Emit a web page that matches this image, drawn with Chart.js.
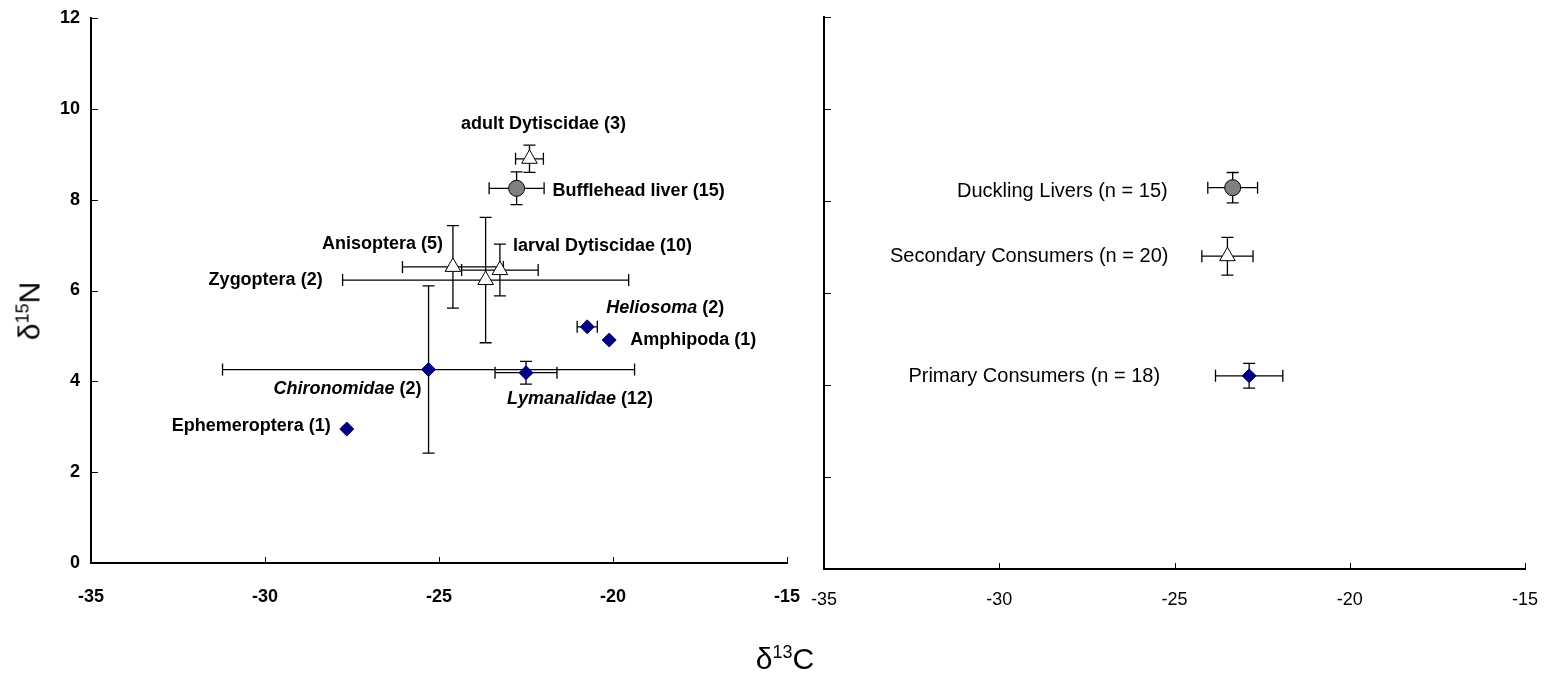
<!DOCTYPE html>
<html>
<head>
<meta charset="utf-8">
<script src="https://cdn.jsdelivr.net/npm/chart.js@4.4.0/dist/chart.umd.min.js"></script>
<style>
    body { margin: 0; background: #fff; width: 1551px; height: 674px; overflow: hidden; position: relative; font-family: "Liberation Sans", Arial, sans-serif; }
    #left-wrap { position: absolute; left: 0; top: 0; width: 800px; height: 674px; }
    #right-wrap { position: absolute; left: 800px; top: 0; width: 751px; height: 674px; }
    .axis-title { position: absolute; font-size: 30px; color: #000; white-space: nowrap; line-height: 1; }
    .axis-title sup { font-size: 18px; vertical-align: 11px; }
    #y-title { left: 29px; top: 311px; transform: translate(-50%, -50%) rotate(-90deg); }
    #x-title { left: 785px; top: 658px; transform: translate(-50%, -50%); }
</style>
</head>
<body>
<div id="left-wrap"><canvas id="left-chart"></canvas></div>
<div id="right-wrap"><canvas id="right-chart"></canvas></div>
<div class="axis-title" id="y-title">δ<sup>15</sup>N</div>
<div class="axis-title" id="x-title">δ<sup>13</sup>C</div>

<script>
// left panel: taxa means (d13C, d15N) with SD
const leftTaxa = ['adult Dytiscidae', 'Bufflehead liver', 'Anisoptera', 'larval Dytiscidae', 'Zygoptera',
                  'Heliosoma', 'Amphipoda', 'Chironomidae', 'Lymanalidae', 'Ephemeroptera'];
const leftCounts = [3, 15, 5, 10, 2, 2, 1, 2, 12, 1];
const leftGroups = ['secondary', 'liver', 'secondary', 'secondary', 'secondary',
                    'primary', 'primary', 'primary', 'primary', 'primary'];
const leftC13 = [-22.4, -22.77, -24.6, -23.25, -23.66, -20.74, -20.11, -25.3, -22.5, -27.65];
const leftN15 = [8.9, 8.25, 6.52, 6.45, 6.23, 5.2, 4.91, 4.26, 4.19, 2.95];
const leftC13Err = [0.4, 0.79, 1.45, 1.1, 4.11, 0.29, 0, 5.92, 0.89, 0];
const leftN15Err = [0.3, 0.36, 0.91, 0.57, 1.38, 0, 0, 1.84, 0.25, 0];
const italicTaxa = ['Heliosoma', 'Chironomidae', 'Lymanalidae'];

// right panel: pooled groups
const rightNames = ['Duckling Livers', 'Secondary Consumers', 'Primary Consumers'];
const rightCounts = [15, 20, 18];
const rightGroups = ['liver', 'secondary', 'primary'];
const rightC13 = [-23.34, -23.49, -22.87];
const rightN15 = [8.29, 6.80, 4.20];
const rightC13Err = [0.71, 0.73, 0.96];
const rightN15Err = [0.33, 0.41, 0.27];

// axes
const xRange = [-35, -15];
const xStep = 5;
const yRange = [0, 12];
const yStep = 2;

// label placement [align, dx, dy] relative to the point (pixels)
const leftLabelPlace = [
    ['center', 14, -35], ['left', 36, 3], ['right', -10, -23], ['left', 13, -24], ['right', -163, 0],
    ['left', 19, -19], ['left', 21, 0], ['right', -7, 20], ['left', -19, 26], ['right', -16, -3]
];
const rightLabelPlace = [['right', -65, 4], ['right', -59, 0], ['right', -89, 1]];

Chart.defaults.font.family = "'Liberation Sans', Arial, sans-serif";
Chart.defaults.color = '#000';

const MARKERS = {
    liver: { style: 'circle', radius: 8, fill: '#808080', border: '#000' },
    secondary: { style: 'triangle', radius: 9, fill: '#ffffff', border: '#000' },
    primary: { style: 'rectRot', radius: 7, fill: '#000080', border: '#000080' }
};

function buildDatasets(groups, xs, ys, xErr, yErr) {
    return ['liver', 'secondary', 'primary'].map(g => {
        const idx = groups.map((gg, i) => gg === g ? i : -1).filter(i => i >= 0);
        const m = MARKERS[g];
        return {
            label: g,
            data: idx.map(i => ({ x: xs[i], y: ys[i] })),
            srcIndex: idx,
            xErr: idx.map(i => xErr[i]),
            yErr: idx.map(i => yErr[i]),
            pointStyle: m.style,
            pointRadius: m.radius,
            pointHoverRadius: m.radius,
            pointBackgroundColor: m.fill,
            pointBorderColor: m.border,
            pointBorderWidth: 1,
            showLine: false
        };
    });
}

// error bars under the markers
const errorBars = {
    id: 'errorBars',
    beforeDatasetsDraw(chart) {
        const { ctx, scales: { x, y } } = chart;
        const cap = 6;
        ctx.save();
        ctx.strokeStyle = '#000';
        ctx.lineWidth = 1.3;
        chart.data.datasets.forEach(ds => {
            ds.data.forEach((p, j) => {
                const px = x.getPixelForValue(p.x);
                const py = y.getPixelForValue(p.y);
                const ex = ds.xErr[j], ey = ds.yErr[j];
                ctx.beginPath();
                if (ex > 0) {
                    const x0 = x.getPixelForValue(p.x - ex), x1 = x.getPixelForValue(p.x + ex);
                    ctx.moveTo(x0, py); ctx.lineTo(x1, py);
                    ctx.moveTo(x0, py - cap); ctx.lineTo(x0, py + cap);
                    ctx.moveTo(x1, py - cap); ctx.lineTo(x1, py + cap);
                }
                if (ey > 0) {
                    const y0 = y.getPixelForValue(p.y - ey), y1 = y.getPixelForValue(p.y + ey);
                    ctx.moveTo(px, y0); ctx.lineTo(px, y1);
                    ctx.moveTo(px - cap, y0); ctx.lineTo(px + cap, y0);
                    ctx.moveTo(px - cap, y1); ctx.lineTo(px + cap, y1);
                }
                ctx.stroke();
            });
        });
        ctx.restore();
    }
};

// tick marks pointing into the plot area
const innerTicks = {
    id: 'innerTicks',
    afterDraw(chart) {
        const { ctx, chartArea, scales: { x, y } } = chart;
        ctx.save();
        ctx.strokeStyle = '#000';
        ctx.lineWidth = 1;
        ctx.beginPath();
        x.ticks.forEach(t => {
            const px = Math.round(x.getPixelForValue(t.value)) + 0.5;
            ctx.moveTo(px, chartArea.bottom);
            ctx.lineTo(px, chartArea.bottom - 6);
        });
        y.ticks.forEach(t => {
            const py = Math.round(y.getPixelForValue(t.value)) + 0.5;
            ctx.moveTo(chartArea.left, py);
            ctx.lineTo(chartArea.left + 7, py);
        });
        ctx.stroke();
        ctx.restore();
    }
};

// text labels next to the points (italic genus names where needed)
const pointLabels = {
    id: 'pointLabels',
    afterDatasetsDraw(chart, args, opts) {
        const { ctx } = chart;
        ctx.save();
        ctx.fillStyle = '#000';
        ctx.textBaseline = 'middle';
        chart.data.datasets.forEach((ds, d) => {
            const meta = chart.getDatasetMeta(d);
            ds.srcIndex.forEach((i, j) => {
                const el = meta.data[j];
                const [align, dx, dy] = opts.place[i];
                const parts = opts.parts(i);
                let total = 0;
                parts.forEach(pt => { ctx.font = pt.font; pt.w = ctx.measureText(pt.text).width; total += pt.w; });
                let sx = el.x + dx;
                if (align === 'center') sx -= total / 2;
                if (align === 'right') sx -= total;
                ctx.textAlign = 'left';
                parts.forEach(pt => {
                    ctx.font = pt.font;
                    ctx.fillText(pt.text, sx, el.y + dy);
                    sx += pt.w;
                });
            });
        });
        ctx.restore();
    }
};

const FAM = "'Liberation Sans', Arial, sans-serif";

function leftParts(i) {
    const name = leftTaxa[i];
    const tail = ' (' + leftCounts[i] + ')';
    if (italicTaxa.includes(name)) {
        return [{ text: name, font: 'italic bold 18px ' + FAM }, { text: tail, font: 'bold 18px ' + FAM }];
    }
    return [{ text: name + tail, font: 'bold 18px ' + FAM }];
}

function rightParts(i) {
    return [{ text: rightNames[i] + ' (n = ' + rightCounts[i] + ')', font: '20px ' + FAM }];
}

function panelOptions(cfg) {
    return {
        responsive: true,
        maintainAspectRatio: false,
        animation: false,
        events: [],
        layout: { padding: cfg.padding },
        plugins: {
            legend: { display: false },
            tooltip: { enabled: false },
            pointLabels: { place: cfg.place, parts: cfg.parts }
        },
        scales: {
            x: {
                type: 'linear',
                min: xRange[0],
                max: xRange[1],
                ticks: { stepSize: xStep, padding: cfg.xPad, font: cfg.tickFont, color: '#000', maxRotation: 0 },
                grid: { display: false, drawTicks: false },
                border: { color: '#000', width: 2 },
                afterFit: s => { s.height = cfg.xHeight; s.paddingLeft = 0; s.paddingRight = 0; }
            },
            y: {
                type: 'linear',
                min: yRange[0],
                max: yRange[1],
                ticks: { stepSize: yStep, padding: 11, font: cfg.tickFont, color: '#000', display: cfg.yLabels },
                grid: { display: false, drawTicks: false },
                border: { color: '#000', width: 2 },
                afterFit: s => { s.width = cfg.yWidth; s.paddingTop = 0; s.paddingBottom = 0; }
            }
        }
    };
}

new Chart(document.getElementById('left-chart'), {
    type: 'scatter',
    data: { datasets: buildDatasets(leftGroups, leftC13, leftN15, leftC13Err, leftN15Err) },
    options: panelOptions({
        padding: { left: 0, top: 18, right: 13, bottom: 0 },
        place: leftLabelPlace,
        parts: leftParts,
        xPad: 23,
        xHeight: 111,
        yWidth: 91,
        yLabels: true,
        tickFont: { size: 18, weight: 'bold' }
    }),
    plugins: [errorBars, innerTicks, pointLabels]
});

new Chart(document.getElementById('right-chart'), {
    type: 'scatter',
    data: { datasets: buildDatasets(rightGroups, rightC13, rightN15, rightC13Err, rightN15Err) },
    options: panelOptions({
        padding: { left: 0, top: 17, right: 26, bottom: 0 },
        place: rightLabelPlace,
        parts: rightParts,
        xPad: 20,
        xHeight: 105,
        yWidth: 24,
        yLabels: false,
        tickFont: { size: 18, weight: 'normal' }
    }),
    plugins: [errorBars, innerTicks, pointLabels]
});
</script>
</body>
</html>
